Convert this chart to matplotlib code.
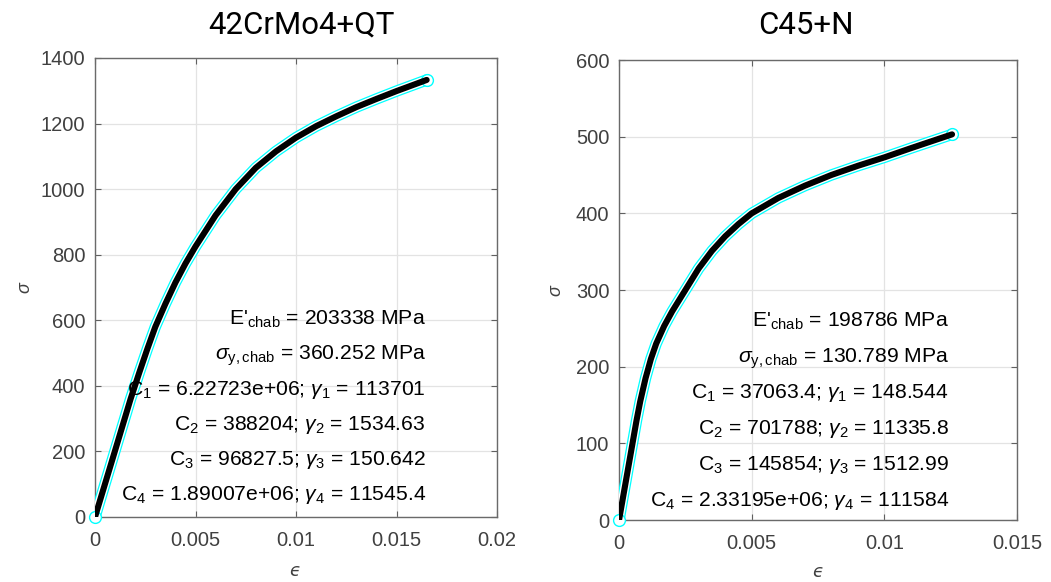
import matplotlib.pyplot as plt

plt.rcParams['font.family'] = ['Liberation Sans', 'DejaVu Sans']
plt.rcParams['mathtext.fontset'] = 'custom'
plt.rcParams['mathtext.rm'] = 'Liberation Sans'
plt.rcParams['mathtext.it'] = 'Liberation Sans:italic'

# Data
# 42CrMo4+QT
eps_qt = [0, 0.001, 0.00177, 0.0022, 0.0026, 0.003, 0.0035, 0.004, 0.0045, 0.005,
          0.006, 0.007, 0.008, 0.009, 0.010, 0.011, 0.012, 0.013, 0.014, 0.015, 0.0165]
sig_qt = [0, 203, 360, 440, 512, 580, 650, 715, 773, 825,
          920, 1000, 1065, 1115, 1157, 1192, 1222, 1250, 1275, 1299, 1333]
# C45+N
eps_n = [0, 0.00066, 0.0008, 0.001, 0.0012, 0.0014, 0.0017, 0.002, 0.0025, 0.003, 0.0035,
         0.004, 0.0045, 0.005, 0.006, 0.007, 0.008, 0.009, 0.010, 0.011, 0.01255]
sig_n = [0, 130, 155, 185, 210, 230, 253, 272, 300, 328, 351,
         370, 386, 400, 420, 436, 450, 462, 473, 485, 503]

titles = ["42CrMo4+QT", "C45+N"]

xticks_qt = [0, 0.005, 0.01, 0.015, 0.02]
xlabels_qt = ["0", "0.005", "0.01", "0.015", "0.02"]
yticks_qt = [0, 200, 400, 600, 800, 1000, 1200, 1400]
xticks_n = [0, 0.005, 0.01, 0.015]
xlabels_n = ["0", "0.005", "0.01", "0.015"]
yticks_n = [0, 100, 200, 300, 400, 500, 600]

params_qt = [r"E'$_{\mathrm{chab}}$ = 203338 MPa",
             r"$\sigma_{\mathrm{y,chab}}$ = 360.252 MPa",
             r"C$_1$ = 6.22723e+06; $\gamma_1$ = 113701",
             r"C$_2$ = 388204; $\gamma_2$ = 1534.63",
             r"C$_3$ = 96827.5; $\gamma_3$ = 150.642",
             r"C$_4$ = 1.89007e+06; $\gamma_4$ = 11545.4"]
params_n = [r"E'$_{\mathrm{chab}}$ = 198786 MPa",
            r"$\sigma_{\mathrm{y,chab}}$ = 130.789 MPa",
            r"C$_1$ = 37063.4; $\gamma_1$ = 148.544",
            r"C$_2$ = 701788; $\gamma_2$ = 11335.8",
            r"C$_3$ = 145854; $\gamma_3$ = 1512.99",
            r"C$_4$ = 2.33195e+06; $\gamma_4$ = 111584"]

grey = '#404040'

fig = plt.figure(figsize=(10.51, 5.82), dpi=100)
ax1 = fig.add_axes([0.0904, 0.1117, 0.3825, 0.7887])
ax2 = fig.add_axes([0.589, 0.1065, 0.3787, 0.7904])


def draw(ax, eps, sig, xticks, xlabels, yticks, params, text_x, text_y0, dy):
    # measured points (cyan circles) and the fitted curve (black)
    ax.plot(eps, sig, color='cyan', lw=8.2, solid_capstyle='round', zorder=3)
    ax.plot(eps, sig, color='white', lw=6.4, solid_capstyle='round', zorder=3)
    ax.plot(eps[-1:], sig[-1:], 'o', mfc='white', mec='cyan', ms=8.5, mew=1.0, zorder=3, clip_on=False)
    ax.plot(eps[:1], sig[:1], 'o', mfc='white', mec='cyan', ms=8.5, mew=1.0, zorder=3, clip_on=False)
    ax.plot(eps, sig, color='black', lw=4.4, solid_capstyle='round', zorder=4)

    ax.set_xlim(xticks[0], xticks[-1])
    ax.set_ylim(yticks[0], yticks[-1])
    ax.set_xticks(xticks, xlabels)
    ax.set_yticks(yticks)
    ax.grid(True, color='#e3e3e3', lw=0.9)
    ax.set_axisbelow(True)
    ax.tick_params(direction='in', top=True, right=True, length=4, width=0.8,
                   colors='#606060', labelcolor=grey, labelsize=14.5)
    ax.tick_params(axis='x', pad=10)
    ax.tick_params(axis='y', pad=7)
    for s in ax.spines.values():
        s.set_color('#6a6a6a')
        s.set_linewidth(1.0)

    ax.set_xlabel("\u03f5", fontsize=13, color=grey, va='center',
                  family='DejaVu Sans', style='italic')
    ax.set_ylabel(r"$\sigma$", fontsize=13, color=grey, va='center')

    for i, p in enumerate(params):
        ax.text(text_x, text_y0 - i * dy, p, transform=ax.transAxes,
                ha='right', va='baseline', fontsize=15.2, color='black', zorder=5)


draw(ax1, eps_qt, sig_qt, xticks_qt, xlabels_qt, yticks_qt, params_qt, 0.823, 0.418, 0.0761)
draw(ax2, eps_n, sig_n, xticks_n, xlabels_n, yticks_n, params_n, 0.829, 0.420, 0.0779)

ax1.xaxis.set_label_coords(0.498, -0.118)
ax2.xaxis.set_label_coords(0.50, -0.112)
ax1.yaxis.set_label_coords(-0.174, 0.5)
ax2.yaxis.set_label_coords(-0.156, 0.5)

fig.text(0.2864, 1 - 25 / 582, titles[0], family='Roboto', fontsize=22.5,
         ha='center', va='center', color='black')
fig.text(0.767, 1 - 25 / 582, titles[1], family='Roboto', fontsize=22.5,
         ha='center', va='center', color='black')

fig.savefig('out.png', dpi=100)
